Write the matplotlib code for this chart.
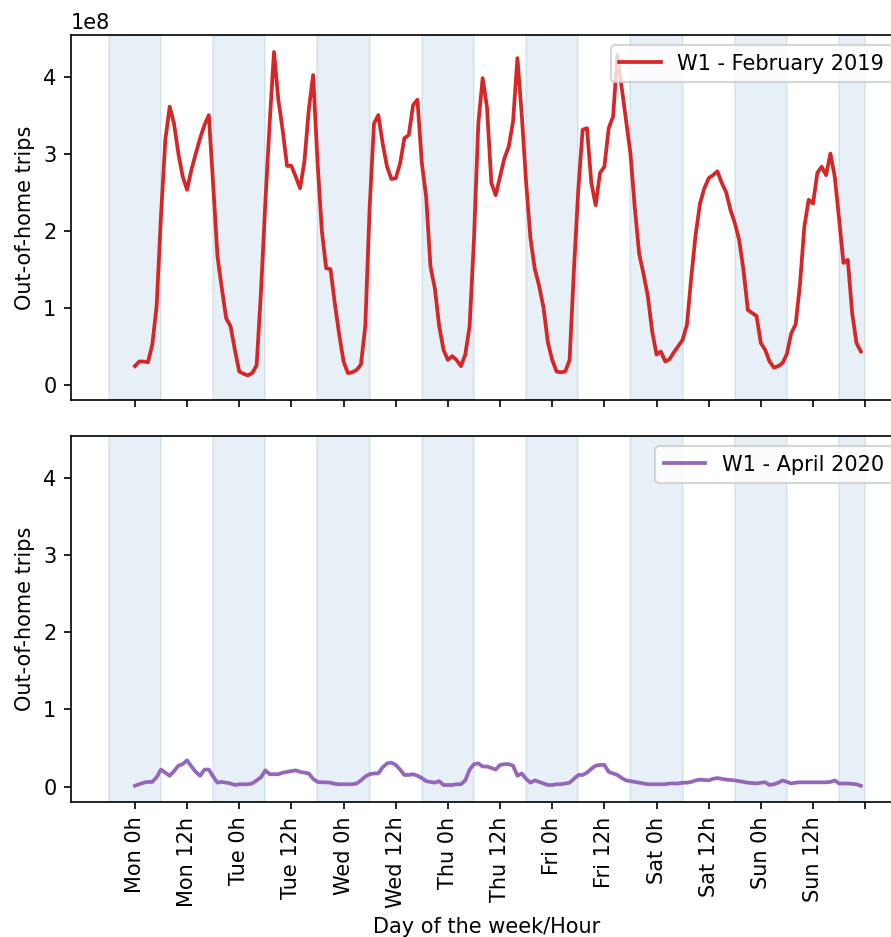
import numpy as np
import matplotlib
matplotlib.use("Agg")
import matplotlib.pyplot as plt

# hourly out-of-home trips, in units of 1e8, Monday 0h .. Sunday 23h
feb_2019 = [
    0.24, 0.30, 0.30, 0.29, 0.52, 1.02, 2.19, 3.18, 3.61, 3.39, 3.00, 2.70,
    2.53, 2.79, 3.00, 3.20, 3.37, 3.50, 2.60, 1.66, 1.25, 0.86, 0.76, 0.45,
    0.17, 0.14, 0.12, 0.15, 0.25, 1.20, 2.35, 3.40, 4.32, 3.70, 3.30, 2.84,
    2.84, 2.70, 2.55, 2.90, 3.57, 4.02, 2.90, 2.00, 1.51, 1.50, 1.05, 0.65,
    0.30, 0.15, 0.16, 0.19, 0.26, 0.76, 2.30, 3.39, 3.50, 3.13, 2.83, 2.67,
    2.68, 2.87, 3.20, 3.24, 3.63, 3.70, 2.88, 2.44, 1.53, 1.25, 0.76, 0.45,
    0.32, 0.37, 0.32, 0.24, 0.39, 0.76, 1.88, 3.39, 3.98, 3.60, 2.62, 2.46,
    2.70, 2.94, 3.09, 3.42, 4.24, 3.50, 2.62, 1.90, 1.50, 1.28, 1.00, 0.55,
    0.32, 0.17, 0.16, 0.17, 0.32, 1.50, 2.53, 3.31, 3.33, 2.62, 2.33, 2.75,
    2.83, 3.33, 3.48, 4.28, 3.85, 3.43, 3.00, 2.30, 1.70, 1.44, 1.15, 0.69,
    0.39, 0.43, 0.30, 0.33, 0.42, 0.50, 0.58, 0.78, 1.40, 1.95, 2.35, 2.55,
    2.68, 2.72, 2.77, 2.62, 2.50, 2.27, 2.10, 1.88, 1.49, 0.97, 0.93, 0.89,
    0.54, 0.45, 0.30, 0.22, 0.24, 0.28, 0.40, 0.67, 0.78, 1.30, 2.05, 2.40,
    2.35, 2.75, 2.83, 2.72, 3.00, 2.70, 2.15, 1.58, 1.62, 0.93, 0.54, 0.43,
]
apr_2020 = [
    0.01, 0.03, 0.05, 0.06, 0.06, 0.12, 0.22, 0.18, 0.14, 0.20, 0.27, 0.29,
    0.34, 0.26, 0.19, 0.14, 0.22, 0.22, 0.13, 0.05, 0.06, 0.05, 0.04, 0.02,
    0.03, 0.03, 0.03, 0.04, 0.08, 0.12, 0.21, 0.16, 0.16, 0.16, 0.18, 0.19,
    0.20, 0.21, 0.19, 0.18, 0.17, 0.10, 0.06, 0.055, 0.055, 0.05, 0.035, 0.03,
    0.03, 0.03, 0.03, 0.04, 0.08, 0.13, 0.16, 0.17, 0.17, 0.25, 0.30, 0.31,
    0.28, 0.22, 0.15, 0.15, 0.16, 0.14, 0.11, 0.07, 0.06, 0.05, 0.07, 0.02,
    0.02, 0.02, 0.03, 0.03, 0.08, 0.22, 0.29, 0.30, 0.26, 0.26, 0.24, 0.22,
    0.28, 0.29, 0.29, 0.27, 0.14, 0.17, 0.10, 0.05, 0.08, 0.06, 0.04, 0.02,
    0.02, 0.03, 0.03, 0.04, 0.05, 0.10, 0.15, 0.15, 0.18, 0.23, 0.27, 0.28,
    0.28, 0.19, 0.17, 0.15, 0.11, 0.08, 0.07, 0.06, 0.05, 0.04, 0.03, 0.03,
    0.03, 0.03, 0.03, 0.04, 0.04, 0.04, 0.05, 0.05, 0.06, 0.08, 0.09, 0.085,
    0.08, 0.10, 0.11, 0.10, 0.09, 0.085, 0.08, 0.07, 0.06, 0.05, 0.045, 0.04,
    0.05, 0.055, 0.02, 0.03, 0.05, 0.08, 0.06, 0.04, 0.05, 0.055, 0.055, 0.055,
    0.055, 0.055, 0.055, 0.055, 0.06, 0.08, 0.04, 0.04, 0.04, 0.035, 0.03, 0.01,
]
days = ["Mon", "Tue", "Wed", "Thu", "Fri", "Sat", "Sun"]
tick_labels = [f"{d} {h}h" for d in days for h in (0, 12)] + [""]

hours = np.arange(len(feb_2019))
ticks = np.arange(0, 169, 12)

fig = plt.figure(figsize=(891 / 150, 937 / 150), dpi=150)
ax1 = fig.add_axes([71 / 891, 1 - 400 / 937, 832 / 891, 365 / 937])
ax2 = fig.add_axes([71 / 891, 1 - 802 / 937, 832 / 891, 366 / 937], sharex=ax1)

series = [(ax1, feb_2019, "tab:red", "W1 - February 2019"),
          (ax2, apr_2020, "tab:purple", "W1 - April 2020")]

for ax, vals, col, lab in series:
    # night hours (18h - 6h)
    for s in range(-6, 168, 24):
        ax.axvspan(s, min(s + 12, 168), color="tab:blue", alpha=0.11)
    ax.plot(hours, np.array(vals) * 1e8, color=col, lw=1.8, label=lab)
    ax.set_ylabel("Out-of-home trips")
    ax.set_ylim(-0.2e8, 4.54e8)
    ax.legend(loc="upper right")

ax1.set_xlim(-14.7, 176.7)
ax2.set_xticks(ticks)
ax2.set_xticklabels(tick_labels, rotation=90)
ax1.tick_params(labelbottom=False)
ax2.yaxis.get_offset_text().set_visible(False)
ax2.set_xlabel("Day of the week/Hour")

fig.savefig("out.png", dpi=150)
